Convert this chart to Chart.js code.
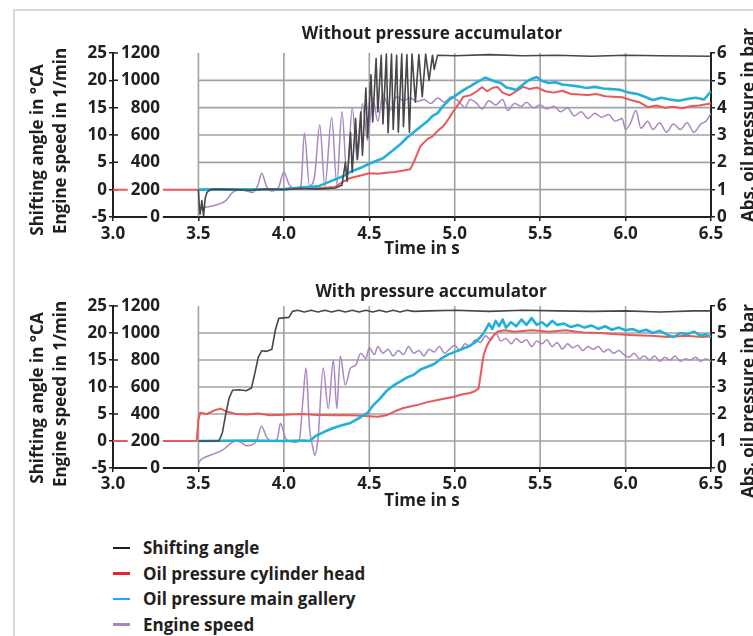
<!DOCTYPE html>
<html>
<head>
<meta charset="utf-8">
<script src="https://cdn.jsdelivr.net/npm/chart.js@4.4.1/dist/chart.umd.min.js"></script>
<style>
  html, body { margin: 0; padding: 0; background: #fff; }
  body { width: 753px; height: 636px; position: relative; overflow: hidden;
         font-family: "Open Sans", Lato, sans-serif; font-weight: 700; color: #231f20; }
  .frame { position: absolute; left: 13px; top: 9px; width: 800px; height: 700px; border: 2px solid #dadada; }
  canvas { position: absolute; left: 0; }
  .txt { position: absolute; white-space: nowrap; font-size: 17px; line-height: 20px; transform: translate(-50%, -50%); }
  .rot { transform: translate(-50%, -50%) rotate(-90deg); }
  #legend { position: absolute; left: 113px; top: 535px; }
  #legend div { height: 25.5px; font-size: 17px; display: flex; align-items: center; white-space: nowrap; }
  #legend span { display: inline-block; width: 17px; height: 2.5px; margin-right: 13px; }
</style>
</head>
<body>
<div class="frame"></div>
<canvas id="top" width="753" height="260" style="top:0"></canvas>
<canvas id="bottom" width="753" height="260" style="top:260px"></canvas>

<div class="txt" style="left:432px;top:33px">Without pressure accumulator</div>
<div class="txt" style="left:431px;top:291px">With pressure accumulator</div>
<div class="txt" style="left:422px;top:248px">Time in s</div>
<div class="txt" style="left:422px;top:500px">Time in s</div>
<div class="txt rot" style="left:37px;top:150px">Shifting angle in °CA</div>
<div class="txt rot" style="left:60px;top:141px">Engine speed in 1/min</div>
<div class="txt rot" style="left:37px;top:398px">Shifting angle in °CA</div>
<div class="txt rot" style="left:60px;top:394px">Engine speed in 1/min</div>
<div class="txt rot" style="left:748px;top:125px">Abs. oil pressure in bar</div>
<div class="txt rot" style="left:748px;top:401px">Abs. oil pressure in bar</div>
<div id="legend"></div>

<script>
// series names and colours (legend order)
const seriesNames = ["Shifting angle", "Oil pressure cylinder head", "Oil pressure main gallery", "Engine speed"];
const seriesColors = ["#474747", "#ea5858", "#22b0d8", "#a987c3"];
const legendColors = ["#231f20", "#e8232b", "#1aaee8", "#a883c4"];

// x axis and left/right axes
const timeMin = 3.0, timeMax = 6.5, timeStep = 0.5, gridStart = 3.5;
const shiftRange = [-5, 25], speedRange = [0, 1200], pressureRange = [0, 6];

// ---- without pressure accumulator ----
const topShiftT = [3.50, 3.505, 3.51, 3.52, 3.53, 3.54, 3.55, 3.57, 3.60, 3.70,
  3.80, 3.90, 4.00, 4.10, 4.20, 4.30, 4.34, 4.36, 4.37, 4.39,
  4.40, 4.42, 4.43, 4.45, 4.46, 4.48, 4.49, 4.51, 4.52, 4.54,
  4.55, 4.57, 4.58, 4.60, 4.61, 4.63, 4.64, 4.66, 4.67, 4.69,
  4.70, 4.72, 4.735, 4.75, 4.77, 4.79, 4.81, 4.83, 4.85, 4.87,
  4.88, 4.90, 5.00, 5.20, 5.40, 5.60, 5.80, 6.00, 6.20, 6.50];
const topShiftV = [0, -3, -4.5, -2, -4.8, -1.5, -0.5, 0, 0.1, 0,
  -0.1, 0.1, 0, 0.2, 0.1, 0.3, 0.8, 5, 1.5, 10.5,
  3.2, 13, 5.5, 14.2, 6.3, 18.6, 9.5, 21, 12.4, 24,
  14.2, 24.6, 12, 24.8, 10.4, 24.8, 11, 24.6, 10.5, 24.8,
  11.5, 24.7, 10.5, 24.8, 16, 24.7, 17, 24.8, 20, 24.6,
  22, 24.6, 24.5, 24.7, 24.5, 24.6, 24.4, 24.6, 24.5, 24.4];

const topHeadT = [3.00, 3.50, 4.00, 4.20, 4.30, 4.35, 4.39, 4.45, 4.50, 4.55,
  4.60, 4.65, 4.70, 4.74, 4.76, 4.80, 4.84, 4.87, 4.90, 4.93,
  4.96, 4.99, 5.03, 5.05, 5.09, 5.13, 5.16, 5.19, 5.22, 5.25,
  5.28, 5.32, 5.36, 5.40, 5.44, 5.48, 5.53, 5.58, 5.63, 5.68,
  5.73, 5.78, 5.83, 5.88, 5.93, 5.98, 6.03, 6.08, 6.13, 6.18,
  6.23, 6.28, 6.33, 6.38, 6.43, 6.50];
const topHeadV = [1.0, 1.0, 1.02, 1.05, 1.1, 1.3, 1.43, 1.52, 1.6, 1.58,
  1.62, 1.65, 1.7, 1.75, 2.0, 2.6, 2.85, 2.95, 3.15, 3.3,
  3.55, 3.85, 4.2, 4.4, 4.45, 4.6, 4.75, 4.6, 4.72, 4.76,
  4.55, 4.45, 4.6, 4.76, 4.68, 4.74, 4.6, 4.55, 4.62, 4.5,
  4.48, 4.46, 4.5, 4.42, 4.4, 4.38, 4.28, 4.2, 4.02, 4.08,
  4.0, 4.03, 3.98, 4.05, 4.08, 4.15];

const topGalleryT = [3.50, 4.00, 4.10, 4.20, 4.29, 4.35, 4.39, 4.45, 4.49, 4.54,
  4.58, 4.63, 4.68, 4.72, 4.76, 4.80, 4.84, 4.87, 4.90, 4.93,
  4.97, 5.00, 5.03, 5.06, 5.09, 5.12, 5.15, 5.18, 5.21, 5.24,
  5.27, 5.30, 5.33, 5.36, 5.39, 5.42, 5.45, 5.48, 5.51, 5.55,
  5.59, 5.63, 5.67, 5.72, 5.77, 5.82, 5.87, 5.92, 5.97, 6.02,
  6.07, 6.12, 6.16, 6.21, 6.26, 6.31, 6.36, 6.41, 6.46, 6.50];
const topGalleryV = [1.0, 1.02, 1.08, 1.12, 1.35, 1.5, 1.65, 1.8, 1.92, 2.05,
  2.15, 2.4, 2.65, 2.9, 3.1, 3.3, 3.5, 3.7, 3.8, 4.05,
  4.3, 4.42, 4.55, 4.68, 4.78, 4.9, 5.0, 5.1, 5.02, 4.95,
  4.9, 4.75, 4.7, 4.65, 4.8, 4.95, 5.05, 5.12, 4.98, 4.9,
  4.93, 4.85, 4.82, 4.78, 4.72, 4.76, 4.7, 4.68, 4.65, 4.55,
  4.5, 4.38, 4.28, 4.36, 4.3, 4.25, 4.32, 4.36, 4.3, 4.6];

const topSpeedT = [3.50, 3.52, 3.56, 3.62, 3.66, 3.70, 3.74, 3.78, 3.82, 3.85,
  3.87, 3.90, 3.93, 3.97, 4.00, 4.03, 4.07, 4.10, 4.12, 4.15,
  4.18, 4.21, 4.24, 4.28, 4.31, 4.34, 4.37, 4.40, 4.43, 4.46,
  4.49, 4.52, 4.55, 4.58, 4.62, 4.66, 4.70, 4.74, 4.78, 4.82,
  4.86, 4.90, 4.94, 4.98, 5.02, 5.06, 5.09, 5.13, 5.16, 5.20,
  5.24, 5.28, 5.31, 5.35, 5.39, 5.42, 5.46, 5.50, 5.54, 5.58,
  5.62, 5.66, 5.70, 5.74, 5.78, 5.82, 5.86, 5.90, 5.94, 5.98,
  6.00, 6.03, 6.06, 6.09, 6.13, 6.16, 6.20, 6.24, 6.28, 6.32,
  6.36, 6.40, 6.44, 6.47, 6.50];
const topSpeedV = [20, 65, 75, 95, 120, 180, 200, 190, 180, 240,
  320, 220, 190, 220, 330, 240, 205, 230, 615, 230,
  300, 675, 225, 730, 240, 770, 290, 800, 420, 830,
  560, 870, 700, 900, 780, 880, 850, 870, 845, 860,
  830, 870, 840, 880, 850, 800, 860, 830, 790, 850,
  820, 860, 780, 830, 810, 840, 800, 820, 790, 810,
  770, 800, 740, 770, 720, 760, 730, 750, 700, 720,
  640, 690, 780, 650, 700, 640, 690, 620, 680, 640,
  690, 620, 680, 700, 760];

// ---- with pressure accumulator ----
const botShiftT = [3.50, 3.62, 3.64, 3.66, 3.68, 3.70, 3.74, 3.78, 3.81, 3.83,
  3.85, 3.87, 3.90, 3.93, 3.95, 3.97, 4.00, 4.03, 4.05, 4.08,
  4.12, 4.16, 4.20, 4.24, 4.28, 4.32, 4.36, 4.40, 4.44, 4.48,
  4.52, 4.56, 4.60, 4.64, 4.68, 4.72, 4.76, 4.85, 5.00, 5.20,
  5.40, 5.60, 5.80, 6.00, 6.20, 6.40, 6.50];
const botShiftV = [0, 0, 1.5, 5, 8, 9.4, 9.5, 9.3, 9.8, 12.5,
  15.5, 16.7, 16.6, 17, 20.5, 22.7, 22.8, 22.9, 24, 24.2,
  23.9, 24.2, 23.9, 24.2, 23.9, 24.2, 23.9, 24.2, 23.9, 24.2,
  23.9, 24.2, 23.9, 24.2, 23.9, 24.2, 24.0, 24.1, 24.2, 24.0,
  24.2, 24.1, 24.0, 24.1, 23.9, 24.1, 24.1];

const botHeadT = [3.00, 3.49, 3.50, 3.51, 3.55, 3.60, 3.63, 3.67, 3.72, 3.78,
  3.85, 3.92, 4.00, 4.10, 4.20, 4.30, 4.40, 4.50, 4.55, 4.60,
  4.65, 4.70, 4.78, 4.84, 4.90, 4.99, 5.04, 5.09, 5.12, 5.14,
  5.16, 5.17, 5.19, 5.22, 5.25, 5.29, 5.35, 5.45, 5.55, 5.65,
  5.75, 5.85, 5.95, 6.05, 6.15, 6.25, 6.35, 6.45, 6.50];
const botHeadV = [1.0, 1.0, 1.8, 2.05, 2.0, 2.15, 2.2, 2.08, 2.0, 1.98,
  2.02, 1.95, 1.97, 2.0, 1.96, 1.95, 1.95, 1.92, 1.9, 1.95,
  2.1, 2.22, 2.33, 2.44, 2.52, 2.63, 2.72, 2.78, 2.85, 2.95,
  3.8, 4.2, 4.55, 4.85, 5.05, 5.1, 5.05, 5.1, 5.05, 5.1,
  5.02, 5.0, 4.95, 4.92, 4.9, 4.85, 4.9, 4.85, 4.88];

const botGalleryT = [3.50, 3.80, 4.00, 4.12, 4.15, 4.19, 4.24, 4.29, 4.34, 4.39,
  4.44, 4.49, 4.52, 4.56, 4.60, 4.64, 4.68, 4.72, 4.76, 4.80,
  4.84, 4.88, 4.92, 4.96, 5.00, 5.04, 5.08, 5.12, 5.15, 5.17,
  5.20, 5.22, 5.24, 5.26, 5.28, 5.30, 5.33, 5.36, 5.39, 5.42,
  5.45, 5.48, 5.51, 5.54, 5.57, 5.60, 5.64, 5.68, 5.72, 5.76,
  5.80, 5.84, 5.88, 5.92, 5.96, 6.00, 6.04, 6.08, 6.12, 6.16,
  6.20, 6.24, 6.28, 6.32, 6.36, 6.40, 6.44, 6.47, 6.50];
const botGalleryV = [1.0, 1.02, 1.0, 1.02, 1.0, 1.2, 1.35, 1.48, 1.58, 1.67,
  1.85, 2.04, 2.3, 2.55, 2.85, 3.05, 3.2, 3.35, 3.45, 3.65,
  3.75, 3.85, 4.05, 4.2, 4.3, 4.4, 4.5, 4.65, 4.85, 5.0,
  5.35, 5.15, 5.45, 5.25, 5.5, 5.2, 5.4, 5.25, 5.5, 5.3,
  5.55, 5.3, 5.4, 5.25, 5.45, 5.3, 5.35, 5.22, 5.3, 5.2,
  5.28, 5.15, 5.25, 5.12, 5.2, 5.1, 5.15, 5.05, 5.12, 5.0,
  5.08, 4.95, 4.85, 5.0, 4.95, 5.05, 4.9, 4.95, 4.85];

const botSpeedT = [3.50, 3.51, 3.55, 3.60, 3.63, 3.66, 3.69, 3.72, 3.75, 3.78,
  3.81, 3.84, 3.87, 3.90, 3.93, 3.96, 3.98, 4.01, 4.04, 4.07,
  4.09, 4.11, 4.13, 4.15, 4.17, 4.18, 4.20, 4.23, 4.26, 4.29,
  4.31, 4.33, 4.36, 4.39, 4.42, 4.45, 4.48, 4.50, 4.53, 4.55,
  4.58, 4.61, 4.64, 4.67, 4.70, 4.73, 4.76, 4.79, 4.82, 4.85,
  4.88, 4.91, 4.94, 4.97, 5.00, 5.03, 5.06, 5.09, 5.12, 5.15,
  5.18, 5.21, 5.24, 5.27, 5.30, 5.33, 5.36, 5.39, 5.42, 5.45,
  5.48, 5.51, 5.54, 5.57, 5.60, 5.63, 5.66, 5.69, 5.72, 5.75,
  5.78, 5.81, 5.84, 5.87, 5.90, 5.93, 5.96, 5.99, 6.02, 6.05,
  6.08, 6.11, 6.14, 6.17, 6.20, 6.23, 6.26, 6.29, 6.32, 6.35,
  6.38, 6.41, 6.44, 6.47, 6.50];
const botSpeedV = [30, 55, 85, 110, 125, 150, 185, 200, 190, 165,
  170, 200, 310, 225, 200, 210, 330, 220, 195, 190,
  205, 480, 740, 300, 150, 95, 220, 740, 440, 800,
  440, 830, 615, 740, 760, 850, 810, 890, 840, 900,
  850, 880, 830, 870, 840, 900, 850, 870, 830, 880,
  860, 900, 850, 880, 910, 870, 920, 900, 950, 930,
  980, 950, 1000, 940, 960, 920, 960, 930, 950, 900,
  940, 920, 950, 900, 930, 880, 920, 890, 910, 870,
  900, 880, 900, 860, 880, 850, 870, 840, 820, 850,
  810, 830, 800, 830, 790, 820, 800, 830, 790, 810,
  800, 820, 790, 810, 790];

Chart.defaults.font.family = "'Open Sans', Lato, sans-serif";
Chart.defaults.font.weight = "bold";
Chart.defaults.font.size = 17;
Chart.defaults.color = "#231f20";

const ink = "#231f20";
const pts = (ts, vs) => ts.map((t, i) => ({ x: t, y: vs[i] }));

// grey grid that starts at 3.5 s, plus small inward ticks on the left axis
const panelGrid = {
    id: "panelGrid",
    beforeDatasetsDraw(chart) {
        const { ctx, chartArea, scales } = chart;
        const x = scales.x, yp = scales.yp, ys = scales.ys;
        const x0 = x.getPixelForValue(gridStart);
        ctx.save();
        ctx.strokeStyle = "rgba(100,100,100,0.6)";
        ctx.lineWidth = 1.6;
        ctx.beginPath();
        x.ticks.forEach(t => {
            if (t.value >= gridStart && t.value < timeMax) {
                const px = x.getPixelForValue(t.value);
                ctx.moveTo(px, chartArea.top);
                ctx.lineTo(px, chartArea.bottom);
            }
        });
        yp.ticks.forEach(t => {
            if (t.value > pressureRange[0] && t.value < pressureRange[1]) {
                const py = yp.getPixelForValue(t.value);
                ctx.moveTo(x0, py);
                ctx.lineTo(chartArea.right, py);
            }
        });
        ctx.stroke();
        ctx.strokeStyle = ink;
        ctx.lineWidth = 1.5;
        ctx.beginPath();
        ys.ticks.forEach(t => {
            const py = ys.getPixelForValue(t.value);
            ctx.moveTo(chartArea.left, py);
            ctx.lineTo(chartArea.left + 5, py);
        });
        ctx.stroke();
        ctx.restore();
    }
};

function buildSets(shiftT, shiftV, headT, headV, galT, galV, spdT, spdV) {
    return [
        { label: seriesNames[0], data: pts(shiftT, shiftV), yAxisID: "ys", borderColor: seriesColors[0], borderWidth: 1.6, order: 0 },
        { label: seriesNames[2], data: pts(galT, galV), yAxisID: "yp", borderColor: seriesColors[2], borderWidth: 2.6, order: 1 },
        { label: seriesNames[1], data: pts(headT, headV), yAxisID: "yp", borderColor: seriesColors[1], borderWidth: 2, order: 2 },
        { label: seriesNames[3], data: pts(spdT, spdV), yAxisID: "yr", borderColor: seriesColors[3], borderWidth: 1.5,
          cubicInterpolationMode: "monotone", order: 3 }
    ];
}

function makePanel(id, sets, padTop, xAxisHeight, xPad) {
    const axisGrid = { drawOnChartArea: false, tickLength: 4, color: ink, lineWidth: 1.5 };
    const axisBorder = { color: ink, width: 2 };
    return new Chart(document.getElementById(id), {
        type: "line",
        data: { datasets: sets },
        options: {
            responsive: false,
            animation: false,
            devicePixelRatio: 1,
            layout: { padding: { top: padTop, left: 0, right: 0, bottom: 0 } },
            elements: { point: { radius: 0 }, line: { tension: 0, borderJoinStyle: "round" } },
            plugins: { legend: { display: false }, tooltip: { enabled: false } },
            scales: {
                x: {
                    type: "linear", min: timeMin, max: timeMax,
                    ticks: { stepSize: timeStep, padding: xPad, callback: v => Number(v).toFixed(1) },
                    grid: axisGrid, border: axisBorder,
                    afterFit: s => { s.height = xAxisHeight; }
                },
                ys: {
                    position: "left", weight: 1, min: shiftRange[0], max: shiftRange[1],
                    ticks: { stepSize: 5, padding: 2, callback: v => String(v) },
                    grid: axisGrid, border: axisBorder,
                    afterFit: s => { s.width = 113; }
                },
                yr: {
                    position: "left", weight: 0, min: speedRange[0], max: speedRange[1],
                    ticks: {
                        stepSize: 200, mirror: true, crossAlign: "far", padding: 8, z: 1,
                        showLabelBackdrop: true, backdropColor: "#fff",
                        backdropPadding: { top: 0, bottom: 0, left: 3, right: 3 },
                        callback: v => String(v)
                    },
                    grid: { display: false, drawTicks: false },
                    border: { display: false },
                    afterFit: s => { s.width = 0; }
                },
                yp: {
                    position: "right", min: pressureRange[0], max: pressureRange[1],
                    ticks: { stepSize: 1, padding: 2, callback: v => String(v) },
                    grid: axisGrid, border: axisBorder,
                    afterFit: s => { s.width = 42; }
                }
            }
        },
        plugins: [panelGrid]
    });
}

makePanel("top", buildSets(topShiftT, topShiftV, topHeadT, topHeadV, topGalleryT, topGalleryV, topSpeedT, topSpeedV), 53, 43, 3);
makePanel("bottom", buildSets(botShiftT, botShiftV, botHeadT, botHeadV, botGalleryT, botGalleryV, botSpeedT, botSpeedV), 46, 52, 2);

const legend = document.getElementById("legend");
seriesNames.forEach((name, i) => {
    const row = document.createElement("div");
    const sw = document.createElement("span");
    sw.style.background = legendColors[i];
    row.appendChild(sw);
    row.appendChild(document.createTextNode(name));
    legend.appendChild(row);
});
</script>
</body>
</html>
